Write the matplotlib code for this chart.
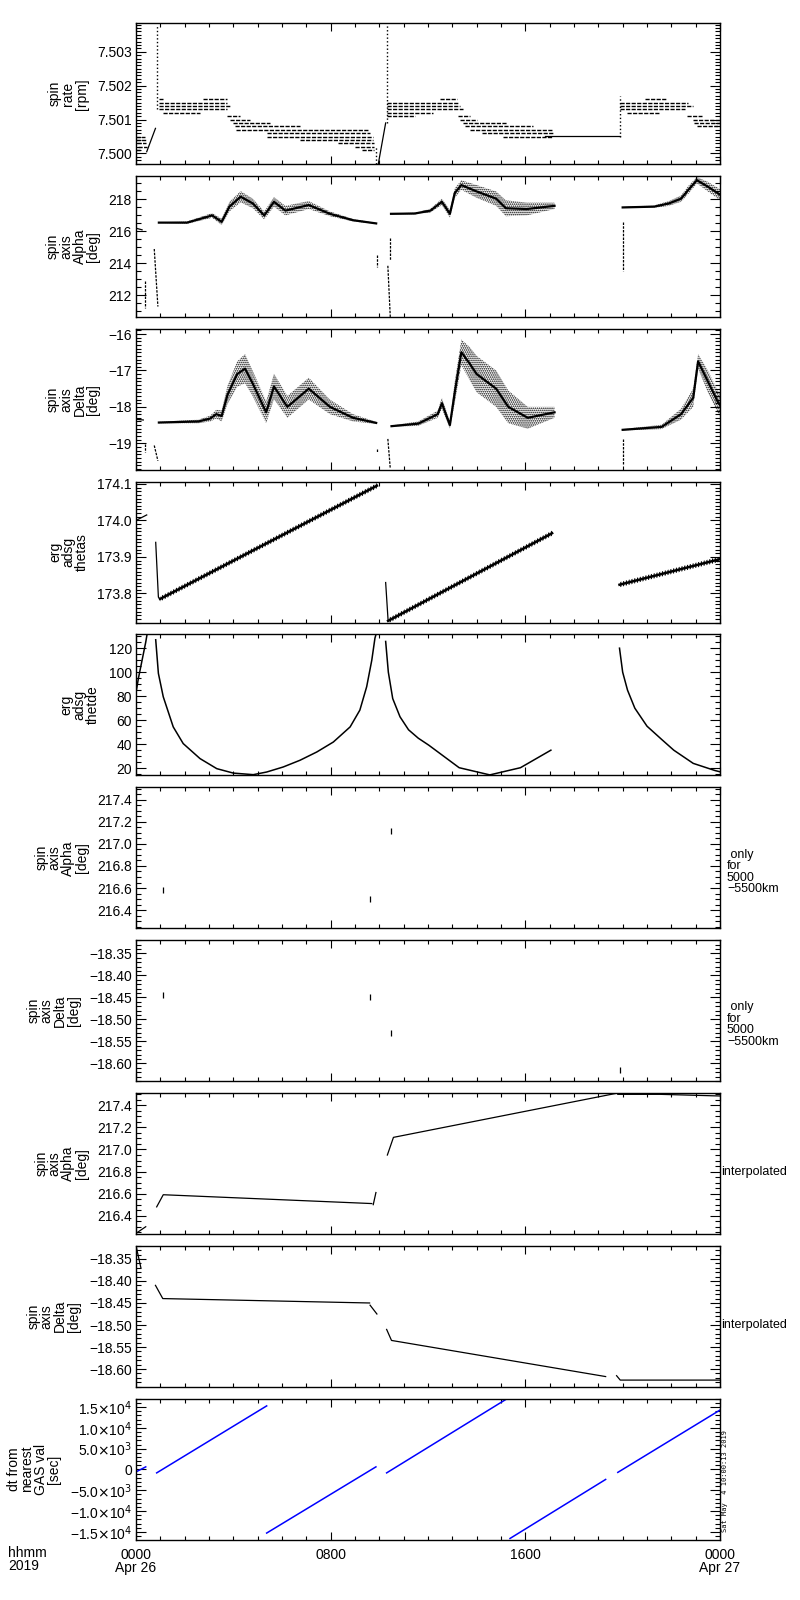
import numpy as np
import matplotlib
matplotlib.use('Agg')
import matplotlib.pyplot as plt
from matplotlib.ticker import MultipleLocator, FuncFormatter

plt.rcParams['font.family'] = ['Liberation Sans', 'DejaVu Sans']
plt.rcParams['hatch.linewidth'] = 0.8

# time axis: hours since 0000 Apr 26 2019

# ---- panel 1: spin rate [rpm], quantised bands (start h, end h, level)
rate_band_start = [0.00, 0.00, 0.05, 0.10, 0.00,
                   0.96, 2.77, 0.96, 0.96, 0.96, 1.12, 3.73, 3.86, 4.00, 4.07, 4.10,
                   5.37, 5.37, 6.74, 8.30, 9.00, 9.27,
                   12.49, 10.30, 10.30, 10.30, 10.30, 10.30, 13.25, 13.32, 13.45, 13.52,
                   13.73, 14.20, 15.09,
                   20.92, 19.90, 19.90, 19.90, 20.16, 22.65, 22.90, 22.95, 23.05]
rate_band_end = [0.35, 0.40, 0.40, 0.44, 0.20,
                 1.12, 3.73, 3.75, 3.86, 3.73, 2.63, 4.27, 4.68, 5.50, 6.74, 9.55,
                 9.60, 9.75, 9.75, 9.80, 9.80, 9.80,
                 13.18, 13.25, 13.32, 13.45, 12.22, 11.47, 13.73, 14.00, 15.23, 16.33,
                 17.15, 17.15, 17.15,
                 21.81, 22.70, 22.90, 22.55, 21.53, 23.28, 24.00, 24.00, 24.00]
rate_band_level = [7.5005, 7.5004, 7.5003, 7.5002, 7.5001,
                   7.5016, 7.5016, 7.5015, 7.5014, 7.5013, 7.5012, 7.5011, 7.5010, 7.5009, 7.5008, 7.5007,
                   7.5006, 7.5005, 7.5004, 7.5003, 7.5002, 7.5001,
                   7.5016, 7.5015, 7.5014, 7.5013, 7.5012, 7.5011, 7.5011, 7.5010, 7.5009, 7.5008,
                   7.5007, 7.5006, 7.5005,
                   7.5016, 7.5015, 7.5014, 7.5013, 7.5012, 7.5011, 7.5010, 7.5009, 7.5008]
rate_ramp1_t = [0.44, 0.80]
rate_ramp1_v = [7.50005, 7.50074]
rate_ramp2_t = [9.96, 10.26]
rate_ramp2_v = [7.4997, 7.5009]
rate_flat_t = [16.81, 19.87]
rate_flat_v = [7.50051, 7.50051]
rate_spike_t = [0.85, 9.85, 10.30, 19.90]
rate_spike_lo = [7.5013, 7.4997, 7.5009, 7.5005]
rate_spike_hi = [7.5038, 7.5002, 7.5038, 7.5017]

# ---- panel 2: spin axis alpha [deg]
alpha_pre_t = [0.0, 0.25]
alpha_pre_v = [216.2, 216.1]
alpha_c1_t = [0.94, 2.1, 3.13, 3.52, 3.84, 4.3, 4.8, 5.27, 5.67, 6.14, 7.1, 7.97, 8.92, 9.87]
alpha_c1_v = [216.55, 216.55, 217.0, 216.6, 217.55, 218.17, 217.75, 217.0, 217.85, 217.3, 217.65, 217.1, 216.7, 216.5]
alpha_c1_s = [0.02, 0.08, 0.15, 0.2, 0.3, 0.35, 0.3, 0.25, 0.3, 0.3, 0.25, 0.15, 0.08, 0.03]
alpha_c2_t = [10.48, 11.46, 12.1, 12.57, 12.9, 13.1, 13.37, 14.0, 14.8, 15.2, 16.06, 17.2]
alpha_c2_v = [217.1, 217.12, 217.3, 217.85, 217.1, 218.4, 218.9, 218.5, 218.05, 217.45, 217.4, 217.6]
alpha_c2_s = [0.03, 0.05, 0.12, 0.2, 0.25, 0.3, 0.3, 0.4, 0.45, 0.5, 0.4, 0.2]
alpha_c3_t = [20.0, 21.3, 21.9, 22.4, 22.7, 23.05, 23.5, 24.0]
alpha_c3_v = [217.5, 217.55, 217.75, 218.05, 218.6, 219.2, 218.8, 218.3]
alpha_c3_s = [0.03, 0.08, 0.15, 0.2, 0.25, 0.2, 0.3, 0.35]
alpha_drop_t0 = [0.35, 0.75, 9.90, 10.35, 10.45, 20.0]
alpha_drop_t1 = [0.35, 0.90, 9.90, 10.45, 10.45, 20.0]
alpha_drop_v0 = [212.9, 214.9, 214.5, 213.85, 215.6, 216.6]
alpha_drop_v1 = [211.2, 211.3, 213.75, 210.65, 214.2, 213.5]

# ---- panel 3: spin axis delta [deg]
delta_pre_t = [0.0, 0.3]
delta_pre_v = [-18.34, -18.36]
delta_c1_t = [0.94, 2.57, 3.05, 3.3, 3.52, 3.76, 4.16, 4.48, 4.79, 5.35, 5.67, 6.22, 7.1, 7.97, 8.92, 9.87]
delta_c1_v = [-18.43, -18.40, -18.32, -18.2, -18.25, -17.67, -17.1, -16.95, -17.35, -18.15, -17.44, -18.0, -17.5, -18.0, -18.3, -18.44]
delta_c1_s = [0.02, 0.05, 0.08, 0.12, 0.15, 0.25, 0.35, 0.4, 0.35, 0.3, 0.35, 0.3, 0.3, 0.2, 0.1, 0.03]
delta_c2_t = [10.5, 11.6, 12.4, 12.57, 12.9, 13.1, 13.37, 13.7, 14.0, 14.8, 15.3, 16.1, 17.2]
delta_c2_v = [-18.53, -18.46, -18.2, -17.9, -18.5, -17.6, -16.5, -16.8, -17.1, -17.5, -18.0, -18.3, -18.15]
delta_c2_s = [0.02, 0.06, 0.1, 0.15, 0.1, 0.3, 0.35, 0.45, 0.5, 0.5, 0.45, 0.3, 0.15]
delta_c3_t = [20.0, 21.6, 22.4, 22.9, 23.1, 23.5, 23.9, 24.0]
delta_c3_v = [-18.63, -18.55, -18.2, -17.75, -16.75, -17.3, -17.85, -17.95]
delta_c3_s = [0.02, 0.06, 0.15, 0.25, 0.2, 0.3, 0.3, 0.3]
delta_drop_t0 = [0.35, 0.75, 9.90, 10.35, 20.0]
delta_drop_t1 = [0.35, 0.90, 9.90, 10.45, 20.0]
delta_drop_v0 = [-19.02, -19.06, -19.15, -18.88, -18.88]
delta_drop_v1 = [-19.25, -19.48, -19.25, -19.70, -19.57]

# ---- panel 4: erg adsg thetas (thick = noisy band)
thetas_segs_t = [[0.0, 0.44], [0.81, 0.92, 0.99], [0.99, 9.9], [10.26, 10.36], [10.36, 17.1], [19.87, 24.0]]
thetas_segs_v = [[174.0, 174.015], [173.94, 173.79, 173.785], [173.785, 174.095],
                 [173.83, 173.726], [173.725, 173.965], [173.824, 173.894]]
thetas_thick = [False, False, True, False, True, True]

# ---- panel 5: erg adsg thetde
thetae_c0_t = [0.0, 0.1, 0.25, 0.4, 0.45]
thetae_c0_v = [83, 95, 110, 125, 131]
thetae_c1_t = [0.81, 0.92, 1.12, 1.53, 1.94, 2.63, 3.32, 4.0, 4.82, 5.37, 6.05, 6.74, 7.43, 8.11,
               8.8, 9.2, 9.48, 9.69, 9.82, 9.87]
thetae_c1_v = [127, 99, 79.5, 54.4, 40.5, 28, 19.6, 15.9, 14.6, 16.8, 21, 26.6, 33.5, 41.8,
               54.4, 68.4, 87.9, 110, 128.4, 132]
thetae_c2_t = [10.26, 10.37, 10.55, 10.85, 11.2, 11.6, 12.03, 13.28, 14.54, 15.8, 17.05]
thetae_c2_v = [125.6, 100, 78, 62.8, 52, 45, 39.2, 20.4, 14.4, 20.4, 35]
thetae_c3_t = [19.87, 20.0, 20.2, 20.5, 21.0, 21.6, 22.1, 22.9, 23.8, 24.0]
thetae_c3_v = [120, 100, 85, 70, 55, 44, 35, 24, 18, 17]

# ---- panels 6/7: only for 5000-5500 km
only_alpha_t = [1.12, 9.63, 10.47]
only_alpha_v = [216.58, 216.50, 217.12]
only_delta_t = [1.12, 9.63, 10.47, 19.9]
only_delta_v = [-18.445, -18.45, -18.53, -18.615]

# ---- panel 8: alpha interpolated
interp_alpha_t = [[0.0, 0.4], [0.85, 1.12, 9.69], [9.75, 9.86], [10.33, 10.58, 19.76],
                  [19.8, 21.54, 23.18, 24.0]]
interp_alpha_v = [[216.24, 216.30], [216.48, 216.59, 216.51], [216.50, 216.61],
                  [216.95, 217.11, 217.51], [217.50, 217.50, 217.49, 217.485]]

# ---- panel 9: delta interpolated
interp_delta_t = [[0.0, 0.2], [0.8, 1.1, 9.6], [9.62, 9.9], [10.3, 10.5, 19.3],
                  [19.75, 19.9, 24.0]]
interp_delta_v = [[-18.32, -18.37], [-18.41, -18.44, -18.45], [-18.455, -18.475],
                  [-18.51, -18.535, -18.617], [-18.615, -18.625, -18.625]]

# ---- panel 10: dt from nearest GAS val [sec]
dt_t0 = [0.0, 0.85, 5.37, 10.30, 15.37, 19.80]
dt_t1 = [0.4, 5.37, 9.86, 15.24, 19.30, 24.00]
dt_v0 = [-580, -820, -15300, -820, -16600, -700]
dt_v1 = [630, 15300, 630, 17000, -2400, 14300]

ylabels = ['spin\nrate\n[rpm]', 'spin\naxis\nAlpha\n[deg]', 'spin\naxis\nDelta\n[deg]',
           'erg\nadsg\nthetas', 'erg\nadsg\nthetde', 'spin\naxis\nAlpha\n[deg]',
           'spin\naxis\nDelta\n[deg]', 'spin\naxis\nAlpha\n[deg]', 'spin\naxis\nDelta\n[deg]',
           'dt from\nnearest\nGAS val\n[sec]']
ylims = [(7.49968, 7.50384), (210.64, 219.46), (-19.73, -15.86), (173.72, 174.106),
         (13.9, 131.4), (216.235, 217.513), (-18.64, -18.32), (216.235, 217.513),
         (-18.64, -18.32), (-16850, 17080)]
ymajor = [0.001, 2, 1, 0.1, 20, 0.2, 0.05, 0.2, 0.05, 5000]
yminor = [0.0001, 0.5, 0.1, 0.01, 5, 0.05, 0.01, 0.05, 0.01, 1000]
ydec = [3, 0, 0, 1, 0, 1, 2, 1, 2, None]


def num_fmt(d):
    return FuncFormatter(lambda v, p: f'{v:.{d}f}'.replace('-', '\u2212'))


def sci_fmt(v, p):
    if abs(v) < 1e-6:
        return '0'
    e = int(np.floor(np.log10(abs(v)) + 1e-9))
    m = v / 10 ** e
    return f'{m:.1f}'.replace('-', '\u2212') + r'$\times$10$^{%d}$' % e


def cloud(ax, t, v, s):
    t = np.asarray(t)
    v = np.asarray(v)
    s = np.asarray(s)
    ax.fill_between(t, v - s, v + s, facecolor='none', edgecolor='black',
                    linewidth=0, hatch='........')
    ax.plot(t, v, color='black', lw=1.6)


fig = plt.figure(figsize=(8, 16), dpi=100)
axes = []
for i in range(10):
    top = 23.3 + i * 152.8
    ax = fig.add_axes([136 / 800, 1 - (top + 141) / 1600, 584 / 800, 141 / 1600])
    ax.set_xlim(0, 24)
    ax.set_ylim(*ylims[i])
    ax.xaxis.set_major_locator(MultipleLocator(8))
    ax.xaxis.set_minor_locator(MultipleLocator(1))
    ax.yaxis.set_major_locator(MultipleLocator(ymajor[i]))
    ax.yaxis.set_minor_locator(MultipleLocator(yminor[i]))
    if ydec[i] is None:
        ax.yaxis.set_major_formatter(FuncFormatter(sci_fmt))
    else:
        ax.yaxis.set_major_formatter(num_fmt(ydec[i]))
    ax.tick_params(which='both', direction='in', top=True, right=True, width=0.8, labelsize=10, pad=3)
    ax.tick_params(axis='y', which='major', length=7)
    ax.tick_params(axis='y', which='minor', length=3.5)
    ax.tick_params(axis='x', which='major', length=6)
    ax.tick_params(axis='x', which='minor', length=3)
    for sp in ax.spines.values():
        sp.set_linewidth(1.0)
    ax.set_ylabel(ylabels[i], fontsize=10, linespacing=0.95, labelpad=6)
    if i < 9:
        ax.set_xticklabels([])
    axes.append(ax)

k = 'black'

# panel 1
ax = axes[0]
ax.hlines(rate_band_level, rate_band_start, rate_band_end, colors=k, lw=1.0,
          linestyles=[(0, (3, 1))])
ax.plot(rate_ramp1_t, rate_ramp1_v, color=k, lw=0.9)
ax.plot(rate_ramp2_t, rate_ramp2_v, color=k, lw=0.9)
ax.plot(rate_flat_t, rate_flat_v, color=k, lw=0.9)
ax.vlines(rate_spike_t, rate_spike_lo, rate_spike_hi, colors=k, lw=1.0, linestyles=':')

# panel 2
ax = axes[1]
ax.plot(alpha_pre_t, alpha_pre_v, color=k, lw=0.9)
cloud(ax, alpha_c1_t, alpha_c1_v, alpha_c1_s)
cloud(ax, alpha_c2_t, alpha_c2_v, alpha_c2_s)
cloud(ax, alpha_c3_t, alpha_c3_v, alpha_c3_s)
for t0, t1, v0, v1 in zip(alpha_drop_t0, alpha_drop_t1, alpha_drop_v0, alpha_drop_v1):
    ax.plot([t0, t1], [v0, v1], color=k, lw=0.9, ls=(0, (2, 1)))

# panel 3
ax = axes[2]
ax.plot(delta_pre_t, delta_pre_v, color=k, lw=0.9)
cloud(ax, delta_c1_t, delta_c1_v, delta_c1_s)
cloud(ax, delta_c2_t, delta_c2_v, delta_c2_s)
cloud(ax, delta_c3_t, delta_c3_v, delta_c3_s)
for t0, t1, v0, v1 in zip(delta_drop_t0, delta_drop_t1, delta_drop_v0, delta_drop_v1):
    ax.plot([t0, t1], [v0, v1], color=k, lw=0.9, ls=(0, (2, 1)))

# panel 4
ax = axes[3]
for t, v, thick in zip(thetas_segs_t, thetas_segs_v, thetas_thick):
    if thick:
        tt = np.asarray(t)
        vv = np.asarray(v)
        ax.fill_between(tt, vv - 0.007, vv + 0.007, facecolor='none', edgecolor=k,
                        linewidth=0, hatch='||||||')
        ax.plot(tt, vv, color=k, lw=1.8)
    else:
        ax.plot(t, v, color=k, lw=0.9)

# panel 5
ax = axes[4]
for t, v in [(thetae_c0_t, thetae_c0_v), (thetae_c1_t, thetae_c1_v),
             (thetae_c2_t, thetae_c2_v), (thetae_c3_t, thetae_c3_v)]:
    ax.plot(t, v, color=k, lw=1.1)

# panels 6, 7
axes[5].plot(only_alpha_t, only_alpha_v, ls='none', marker='|', ms=4, mew=0.9, color=k)
axes[6].plot(only_delta_t, only_delta_v, ls='none', marker='|', ms=5, mew=0.9, color=k)
for ax in (axes[5], axes[6]):
    ax.text(1.012, 0.40, ' only\nfor\n5000\n\u22125500km', transform=ax.transAxes,
            ha='left', va='center', fontsize=9, linespacing=0.95)

# panels 8, 9
for t, v in zip(interp_alpha_t, interp_alpha_v):
    axes[7].plot(t, v, color=k, lw=0.9)
for t, v in zip(interp_delta_t, interp_delta_v):
    axes[8].plot(t, v, color=k, lw=0.9)
for ax in (axes[7], axes[8]):
    ax.text(1.002, 0.44, 'interpolated', transform=ax.transAxes,
            ha='left', va='center', fontsize=9)

# panel 10
ax = axes[9]
for t0, t1, v0, v1 in zip(dt_t0, dt_t1, dt_v0, dt_v1):
    ax.plot([t0, t1], [v0, v1], color='blue', lw=1.1)
ax.set_xticks([0, 8, 16, 24])
ax.set_xticklabels(['0000\nApr 26', '0800', '1600', '0000\nApr 27'], fontsize=10, linespacing=0.95)
ax.tick_params(axis='x', pad=6)

fig.text(8 / 800, 1 - 1546 / 1600, 'hhmm\n2019', ha='left', va='top', fontsize=10, linespacing=0.95)
fig.text(722 / 800, 1 - 1532 / 1600, 'Sat May  4 10:00:13 2019', rotation=90,
         ha='left', va='bottom', fontsize=5, family='DejaVu Sans Mono')

fig.savefig('out.png', dpi=100)
